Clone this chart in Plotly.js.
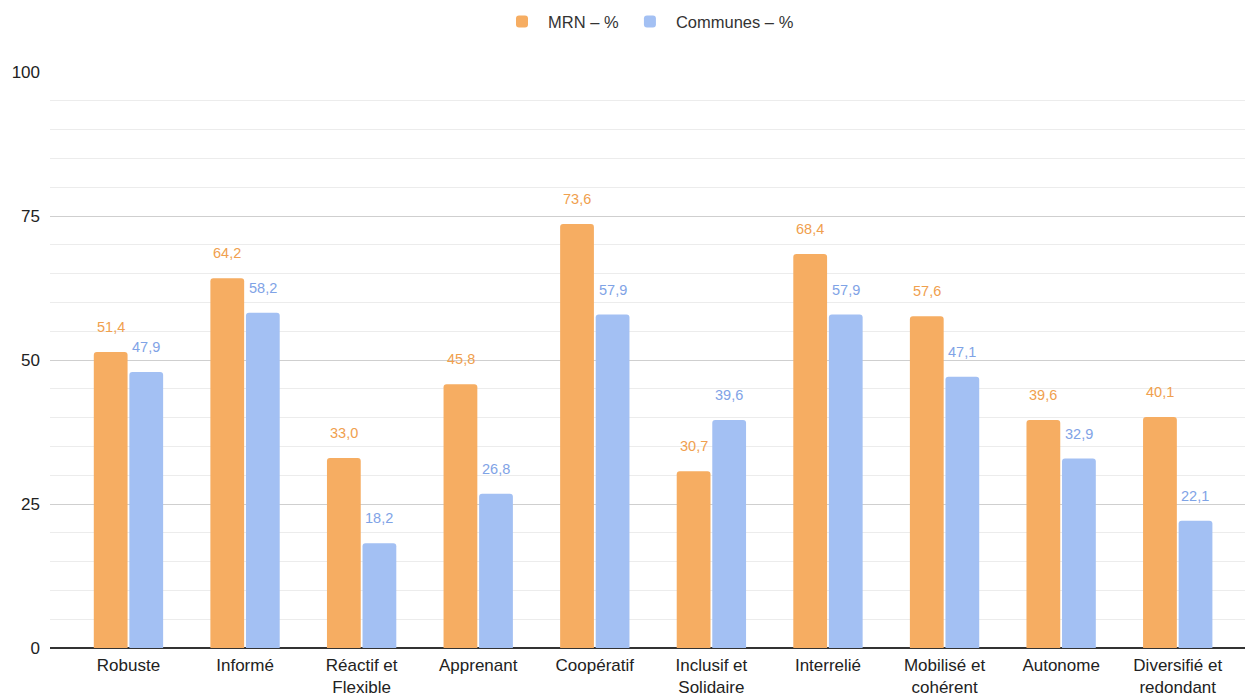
<!DOCTYPE html>
<html><head><meta charset="utf-8">
<script src="https://cdn.plot.ly/plotly-3.0.1.min.js"></script>
<style>html,body{margin:0;padding:0;background:#fff}</style>
</head><body><div id="chart" style="width:1247px;height:697px"></div>
<script>
const categories = ["Robuste","Informé","Réactif et<br>Flexible","Apprenant","Coopératif","Inclusif et<br>Solidaire","Interrelié","Mobilisé et<br>cohérent","Autonome","Diversifié et<br>redondant"];
const mrn = [51.4,64.2,33.0,45.8,73.6,30.7,68.4,57.6,39.6,40.1];
const communes = [47.9,58.2,18.2,26.8,57.9,39.6,57.9,47.1,32.9,22.1];
const yTicks = [0,25,50,75,100];

const FONT = "'Liberation Sans', Arial, sans-serif";
const orange = "#F6AD62", blue = "#A3C0F3";
const orangeText = "#F0A04E", blueText = "#7FA3E6";
const fmt = v => v.toFixed(1).replace(".", ",");
const idx = categories.map((c,i)=>i);

const traces = [
  {type:"bar", name:"MRN – %", x:idx, y:mrn, marker:{color:orange, cornerradius:3}, hoverinfo:"none"},
  {type:"bar", name:"Communes – %", x:idx, y:communes, marker:{color:blue, cornerradius:3}, hoverinfo:"none"}
];
const annotations = [];
mrn.forEach((v,i)=>annotations.push({x:i-0.152, y:v, text:fmt(v), showarrow:false, yanchor:"bottom", yshift:15, font:{family:FONT, size:14.5, color:orangeText}}));
communes.forEach((v,i)=>annotations.push({x:i+0.152, y:v, text:fmt(v), showarrow:false, yanchor:"bottom", yshift:15, font:{family:FONT, size:14.5, color:blueText}}));

const layout = {
  width:1247, height:697,
  margin:{l:50, r:2, t:72, b:49, autoexpand:false},
  paper_bgcolor:"#fff", plot_bgcolor:"#fff",
  font:{family:FONT, size:17, color:"#222"},
  barmode:"group", bargap:0.39, bargroupgap:0.05,
  showlegend:true,
  legend:{orientation:"h", x:0.5, xanchor:"center", y:1.087, yanchor:"middle", font:{family:FONT, size:16.5, color:"#333"}, itemwidth:42, tracegroupgap:10},
  xaxis:{tickmode:"array", tickvals:idx, ticktext:categories, range:[-0.673,9.577], showgrid:false, zeroline:false, showline:false, ticks:"", tickfont:{family:FONT, size:17, color:"#222"}, ticklabelstandoff:5, fixedrange:true, automargin:false},
  yaxis:{range:[0,100], tickmode:"array", tickvals:yTicks, showgrid:true, gridcolor:"#cfcfcf", gridwidth:1, zeroline:true, zerolinecolor:"#333", zerolinewidth:1.2, ticks:"", tickfont:{family:FONT, size:17, color:"#222"}, ticklabelstandoff:9, automargin:false,
         minor:{dtick:5, tick0:0, showgrid:true, gridcolor:"#ececec", gridwidth:1}},
  annotations:annotations
};
Plotly.newPlot("chart", traces, layout, {displayModeBar:false, staticPlot:true});
</script></body></html>
